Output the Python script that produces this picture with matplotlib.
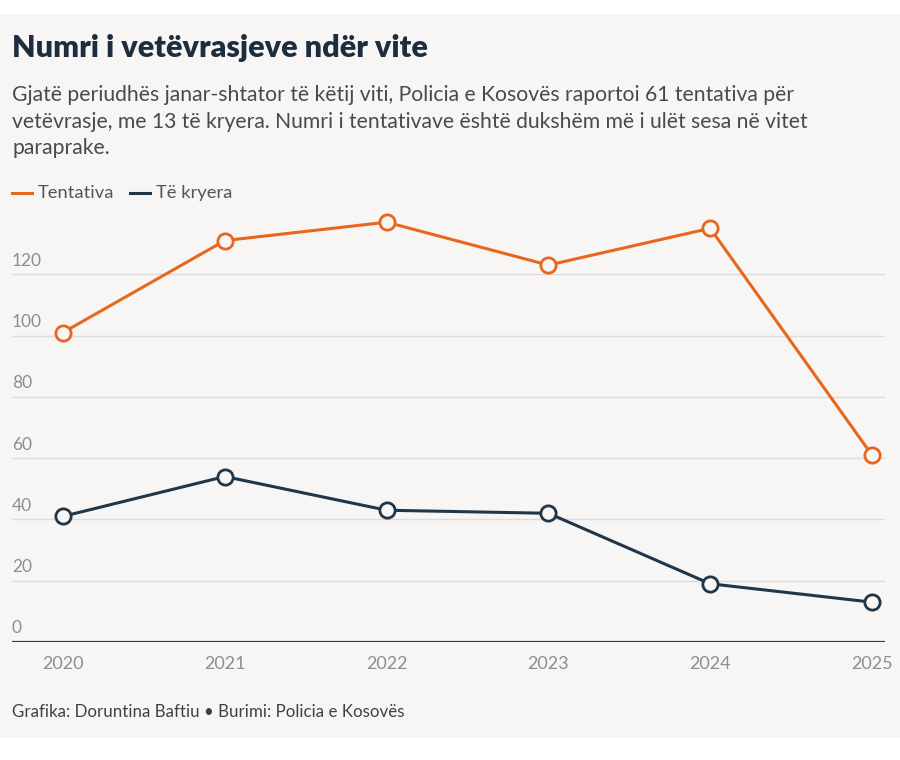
import matplotlib
matplotlib.use("Agg")
import matplotlib.pyplot as plt
from matplotlib.patches import Rectangle

# ==================== Data ====================
years = [2020, 2021, 2022, 2023, 2024, 2025]
tentativa = [101, 131, 137, 123, 135, 61]
kryera = [41, 54, 43, 42, 19, 13]
y_ticks = [0, 20, 40, 60, 80, 100, 120]

title = "Numri i vetëvrasjeve ndër vite"
subtitle = ("Gjatë periudhës janar-shtator të këtij viti, Policia e Kosovës raportoi 61 tentativa për\n"
            "vetëvrasje, me 13 të kryera. Numri i tentativave është dukshëm më i ulët sesa në vitet\n"
            "paraprake.")
footer = "Grafika: Doruntina Baftiu \u2022 Burimi: Policia e Kosovës"

# ==================== Style ====================
bg = "#f7f6f4"
orange = "#e8671f"
navy = "#223649"
grid_c = "#dddcda"
tick_c = "#8e8e8e"
plt.rcParams['font.family'] = ['Lato', 'DejaVu Sans']

W, H = 900, 760
fig = plt.figure(figsize=(W / 100, H / 100), dpi=100, facecolor="white")
fig.add_artist(Rectangle((0, 22 / H), 1, (738 - 14) / H, transform=fig.transFigure,
                         facecolor=bg, edgecolor="none", zorder=-10))

def fy(px):
    return 1 - px / H

fig.text(12 / W, fy(48), title, fontsize=22, fontweight="heavy", color="#1c2d3f", va="center")
fig.text(12 / W, fy(85), subtitle, fontsize=15.2, color="#474b4f", va="top", linespacing=1.42)

# legend
for x0, lab, col in [(12, "Tentativa", orange), (130, "Të kryera", navy)]:
    fig.add_artist(plt.Line2D([x0 / W, (x0 + 20) / W], [fy(193), fy(193)], color=col, lw=2.2))
    fig.text((x0 + 26) / W, fy(193), lab, fontsize=13.2, color="#555", va="center")

fig.text(12 / W, fy(712), footer, fontsize=12.2, color="#3d4248", va="center")

# ==================== Chart ====================
ax = fig.add_axes([12 / W, (H - 642) / H, (885 - 12) / W, (642 - 213) / H])
ax.set_facecolor("none")
ax.set_xlim(2020 - 51 / 161.8, 2025 + 13 / 161.8)
ax.set_ylim(0, 140)

for v in y_ticks[1:]:
    ax.axhline(v, color=grid_c, lw=1, zorder=1)
ax.axhline(0, color="#3a3a3a", lw=1.6, zorder=2)
for v in y_ticks:
    ax.annotate(str(v), xy=(0, v), xycoords=ax.get_yaxis_transform(),
                xytext=(0, 4), textcoords="offset points",
                ha="left", va="bottom", fontsize=12.5, color=tick_c)

ax.plot(years, tentativa, color=orange, lw=2.2, marker="o", ms=11,
        mfc=bg, mec=orange, mew=2, zorder=4, clip_on=False)
ax.plot(years, kryera, color=navy, lw=2.2, marker="o", ms=11,
        mfc=bg, mec=navy, mew=2, zorder=4, clip_on=False)

ax.set_xticks(years)
ax.set_xticklabels([str(y) for y in years], fontsize=13, color=tick_c)
ax.tick_params(axis="x", length=0, pad=10)
ax.set_yticks([])
for s in ax.spines.values():
    s.set_visible(False)

fig.savefig("out.png", dpi=100, facecolor="white")
